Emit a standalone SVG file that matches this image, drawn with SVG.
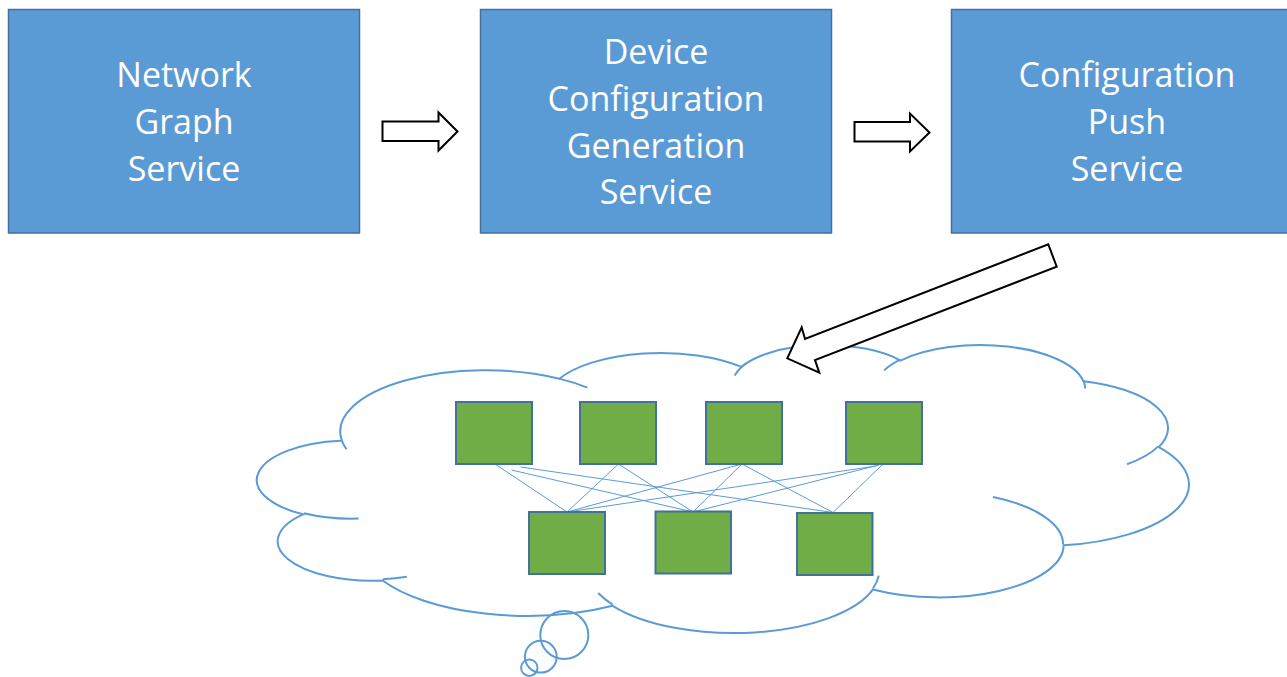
<svg xmlns="http://www.w3.org/2000/svg" width="1287" height="677" viewBox="0 0 1287 677">
<style>
.svc{fill:#5B9BD5;stroke:#41719C;stroke-width:1.5}
.lbl{font-family:"Open Sans","Liberation Sans",sans-serif;font-size:34px;fill:#FFFFFF;text-anchor:middle}
.blk{fill:#FFFFFF;stroke:#000000;stroke-width:2;stroke-linejoin:miter}
.cloud{fill:#FFFFFF;stroke:#5B9BD5;stroke-width:2}
.cl{fill:none;stroke:#5B9BD5;stroke-width:2}
.dev{fill:#70AD47;stroke:#41719C;stroke-width:2}
.link{stroke:#5B9BD5;stroke-width:1;fill:none}
</style>
<g id="cloud">
<path class="cloud" d="M341.55,439.8 A145.53,61.27 0 0 1 559.32,378.68 A114.93,48.45 0 0 1 741.51,366.88 A94.07,39.63 0 0 1 900.5,360.54 A104.67,43.97 0 0 1 1083.34,381.18 A114.93,48.49 0 0 1 1158.78,447.08 A146.01,61.47 0 0 1 1063.66,545.37 A124.67,52.45 0 0 1 872.96,589.43 A145.51,61.43 0 0 1 612.73,605.78 A166.37,70.29 0 0 1 382.63,580.48 A93.96,39.45 0 0 1 303.09,514.33 A93.64,39.63 0 0 1 340.8,440.71 Z"/>
<path class="cl" d="M358.64,518.51 A93.64,39.63 0 0 1 304.05,513.2 M406.8,576.66 A93.96,39.45 0 0 1 382.91,579.2 M612.62,604.6 A145.51,61.43 0 0 1 598.21,592.99 M878.75,575.67 A145.51,61.43 0 0 1 873,588.4 M993.01,497.03 A124.67,52.45 0 0 1 1063.08,544.6 M1158.28,446.36 A114.93,48.49 0 0 1 1127.09,464.19 M1083.41,380.17 A104.67,43.97 0 0 1 1085.06,388.59 M884.16,370.35 A104.67,43.97 0 0 1 900.16,359.59 M734.66,375.47 A94.07,39.63 0 0 1 742.4,366.2 M559.21,378.61 A145.53,61.27 0 0 1 587.29,387.63 M346.44,449.26 A145.53,61.27 0 0 1 341.56,439.81"/>
<circle class="cl" cx="564.3" cy="635" r="24"/>
<circle class="cl" cx="540.8" cy="656.7" r="15.9"/>
<circle class="cl" cx="529.3" cy="667.7" r="8.2"/>
</g>
<g id="svc-network-graph">
<rect class="svc" x="8.5" y="9.5" width="351" height="223.5"/>
<text class="lbl" x="184" y="87">Network</text>
<text class="lbl" x="184" y="134">Graph</text>
<text class="lbl" x="184" y="181">Service</text>
</g>
<g id="svc-config-gen">
<rect class="svc" x="480.5" y="9.5" width="351" height="223.5"/>
<text class="lbl" x="656" y="63.5">Device</text>
<text class="lbl" x="656" y="110.5">Configuration</text>
<text class="lbl" x="656" y="157.5">Generation</text>
<text class="lbl" x="656" y="204">Service</text>
</g>
<g id="svc-config-push">
<rect class="svc" x="951.5" y="9.5" width="351" height="223.5"/>
<text class="lbl" x="1127" y="87">Configuration</text>
<text class="lbl" x="1127" y="134">Push</text>
<text class="lbl" x="1127" y="181">Service</text>
</g>
<g id="connectors">
<polygon class="blk" points="382.5,121.5 438.5,121.5 438.5,112.5 457.5,131.5 438.5,150.5 438.5,141 382.5,141"/>
<polygon class="blk" points="854.5,122 910,122 910,113.5 929.5,132.5 910,151.5 910,141.5 854.5,141.5"/>
<polygon class="blk" points="1048.3,244.3 1056.7,266.7 815,360 819.3,372.7 787.3,358.3 801.7,327.3 805,339"/>
<line class="link" x1="495" y1="464" x2="567" y2="512"/>
<line class="link" x1="511.5" y1="470" x2="693" y2="512"/>
<line class="link" x1="520.5" y1="467" x2="833" y2="512.5"/>
<line class="link" x1="618.5" y1="464" x2="567" y2="512"/>
<line class="link" x1="618.5" y1="464" x2="693" y2="512"/>
<line class="link" x1="742" y1="464" x2="567" y2="512"/>
<line class="link" x1="742" y1="464" x2="693" y2="512"/>
<line class="link" x1="742" y1="464" x2="833" y2="512.5"/>
<line class="link" x1="876" y1="466" x2="567" y2="512"/>
<line class="link" x1="879" y1="465" x2="693" y2="512"/>
<line class="link" x1="883" y1="464" x2="833" y2="512.5"/>
</g>
<g id="sw-top-1"><rect class="dev" x="456" y="402" width="76" height="62"/></g>
<g id="sw-top-2"><rect class="dev" x="580" y="402" width="76" height="62"/></g>
<g id="sw-top-3"><rect class="dev" x="706" y="402" width="76" height="62"/></g>
<g id="sw-top-4"><rect class="dev" x="846" y="402" width="76" height="62"/></g>
<g id="sw-bot-1"><rect class="dev" x="529" y="512" width="76" height="62"/></g>
<g id="sw-bot-2"><rect class="dev" x="655.5" y="511.5" width="75.5" height="62"/></g>
<g id="sw-bot-3"><rect class="dev" x="797" y="513" width="75.5" height="62"/></g>
</svg>
